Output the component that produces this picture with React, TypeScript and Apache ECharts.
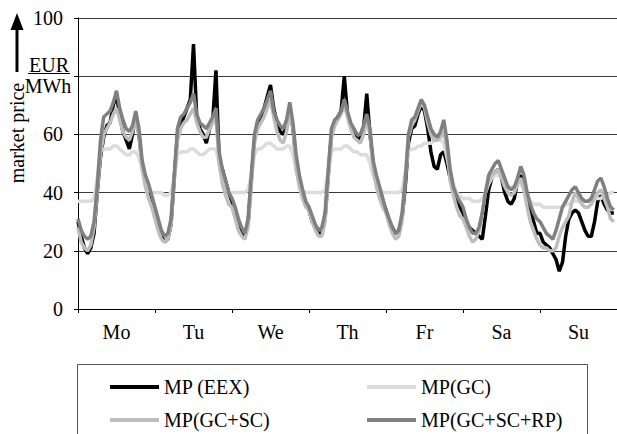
import React, { useEffect, useRef } from "react";
import * as echarts from "echarts";

const days = ["Mo", "Tu", "We", "Th", "Fr", "Sa", "Su"];
const yTicks = [0, 20, 40, 60, 80, 100];
const yLabelHidden = [80]; // replaced by the unit fraction EUR/MWh

// hourly market prices (EUR/MWh), 7 days x 24 h
const mpEex = [
  30, 25, 21, 19, 21, 26, 40, 52, 59, 63, 64, 70, 74, 66, 61, 58, 55, 60, 67, 60, 49, 44, 42, 38,
  34, 28, 25, 23, 24, 29, 45, 60, 63, 66, 69, 72, 91, 66, 62, 60, 57, 62, 65, 82, 51, 48, 44, 40,
  37, 33, 29, 26, 25, 29, 44, 58, 64, 66, 69, 73, 77, 69, 64, 61, 60, 63, 69, 62, 50, 44, 40, 36,
  34, 30, 28, 26, 26, 31, 46, 60, 64, 66, 68, 80, 67, 63, 61, 58, 59, 62, 74, 60, 50, 44, 41, 37,
  34, 30, 28, 26, 27, 31, 42, 57, 62, 63, 67, 70, 68, 62, 54, 49, 48, 53, 54, 50, 45, 42, 38, 35,
  33, 30, 28, 27, 26, 25, 24, 32, 41, 45, 47, 48, 45, 40, 37, 36, 38, 44, 46, 42, 37, 34, 30, 26,
  26, 23, 22, 21, 19, 17, 13, 16, 25, 31, 33, 34, 33, 30, 27, 25, 25, 30, 37, 39, 36, 34, 33, 33,
];
const mpGc = [
  37, 37, 37, 37, 37, 38, 45, 54, 55, 55, 55, 56, 56, 55, 54, 53, 53, 54, 54, 52, 48, 44, 41, 40,
  40, 40, 40, 39, 39, 40, 45, 53, 54, 54, 54, 55, 55, 54, 53, 53, 54, 55, 55, 55, 50, 45, 42, 40,
  40, 40, 40, 40, 40, 41, 46, 53, 55, 55, 56, 57, 57, 56, 55, 55, 55, 56, 56, 53, 48, 44, 41, 40,
  40, 40, 40, 40, 40, 41, 47, 54, 55, 55, 55, 56, 56, 55, 54, 54, 53, 53, 53, 50, 46, 43, 41, 40,
  40, 40, 40, 40, 40, 41, 47, 54, 55, 55, 56, 56, 57, 57, 57, 58, 58, 58, 57, 52, 47, 43, 40, 39,
  38, 38, 38, 37, 37, 37, 38, 40, 43, 45, 46, 46, 45, 44, 42, 42, 42, 43, 43, 41, 39, 37, 36, 36,
  36, 35, 35, 35, 35, 35, 35, 35, 36, 36, 37, 37, 37, 37, 37, 37, 37, 38, 38, 38, 39, 39, 40, 40,
];
const mpGcSc = [
  28, 23, 21, 20, 22, 28, 40, 53, 60, 62, 64, 67, 69, 65, 61, 59, 58, 61, 65, 60, 48, 42, 38, 35,
  31, 27, 24, 23, 24, 29, 44, 58, 62, 64, 65, 67, 69, 64, 61, 59, 59, 62, 64, 66, 50, 43, 39, 36,
  35, 31, 27, 25, 24, 28, 42, 57, 62, 64, 66, 69, 72, 66, 61, 58, 57, 61, 68, 62, 48, 42, 38, 35,
  34, 30, 27, 25, 25, 30, 45, 59, 63, 65, 67, 70, 66, 62, 59, 58, 57, 60, 65, 60, 48, 42, 38, 35,
  33, 29, 26, 24, 25, 30, 44, 59, 63, 65, 68, 71, 69, 64, 60, 58, 58, 59, 61, 55, 44, 39, 35, 32,
  31, 28, 25, 23, 24, 27, 33, 40, 44, 46, 47, 48, 45, 42, 40, 39, 40, 43, 45, 41, 35, 30, 27, 24,
  22, 21, 21, 20, 20, 21, 25, 28, 30, 32, 37, 40, 38, 36, 35, 35, 36, 38, 40, 41, 38, 35, 31, 30,
];
const mpGcScRp = [
  31, 27, 25, 24, 25, 30, 42, 58, 66, 67, 68, 71, 75, 69, 65, 62, 61, 63, 68, 62, 51, 46, 43, 39,
  35, 31, 27, 25, 26, 31, 46, 62, 66, 67, 69, 71, 74, 67, 64, 63, 62, 64, 66, 69, 54, 48, 44, 40,
  38, 35, 31, 28, 26, 31, 46, 60, 65, 67, 69, 72, 75, 68, 65, 63, 62, 65, 71, 64, 53, 46, 41, 37,
  35, 32, 29, 27, 28, 33, 48, 62, 65, 66, 68, 72, 68, 64, 62, 60, 60, 63, 67, 62, 51, 46, 42, 38,
  34, 31, 28, 26, 27, 33, 44, 60, 65, 66, 69, 72, 70, 66, 62, 60, 59, 61, 65, 58, 48, 42, 39, 37,
  35, 31, 28, 26, 26, 28, 33, 40, 46, 48, 50, 51, 48, 45, 42, 41, 42, 45, 49, 46, 40, 36, 33, 31,
  30, 28, 26, 25, 24, 27, 31, 35, 37, 39, 41, 42, 40, 38, 37, 37, 38, 41, 44, 45, 42, 38, 35, 34,
];

const seriesNames = ["MP (EEX)", "MP(GC)", "MP(GC+SC)", "MP(GC+SC+RP)"];
const seriesColors = ["#000000", "#dcdcdc", "#bdbdbd", "#808080"];
const seriesValues = [mpEex, mpGc, mpGcSc, mpGcScRp];

const FONT = "Liberation Serif";

export default function App() {
  const ref = useRef<HTMLDivElement>(null);
  useEffect(() => {
    if (!ref.current) return;
    const chart = echarts.init(ref.current, null, { renderer: "svg" });
    const hours = days.length * 24;
    const legendPos = [
      { left: 110, top: 377 },
      { left: 367, top: 377 },
      { left: 110, top: 410 },
      { left: 367, top: 410 },
    ];
    const txt = (text: string, x: number, y: number, rotation = 0) => ({
      type: "text",
      x,
      y,
      rotation,
      style: {
        text,
        fontSize: 20,
        fontFamily: FONT,
        fill: "#000",
        align: "center",
        verticalAlign: "middle",
      },
    });
    chart.setOption({
      animation: false,
      backgroundColor: "#ffffff",
      textStyle: { fontFamily: FONT },
      grid: { left: 78, top: 18, width: 544, height: 291, containLabel: false },
      xAxis: [
        {
          type: "value",
          min: 0,
          max: hours,
          interval: 24,
          position: "bottom",
          axisLine: { show: true, lineStyle: { color: "#000", width: 1 } },
          axisTick: { show: true, length: 4, lineStyle: { color: "#000" } },
          axisLabel: { show: false },
          splitLine: { show: false },
        },
        {
          type: "category",
          data: days,
          position: "bottom",
          boundaryGap: true,
          axisLine: { show: false },
          axisTick: { show: false },
          axisLabel: { color: "#000", fontSize: 20, fontFamily: FONT, margin: 13 },
          splitLine: { show: false },
        },
      ],
      yAxis: {
        type: "value",
        min: yTicks[0],
        max: yTicks[yTicks.length - 1],
        interval: 20,
        axisLine: { show: true, lineStyle: { color: "#000", width: 1 } },
        axisTick: { show: true, length: 4, lineStyle: { color: "#000" } },
        axisLabel: {
          color: "#000",
          fontSize: 20,
          fontFamily: FONT,
          margin: 15,
          formatter: (v: number) => (yLabelHidden.includes(v) ? "" : String(v)),
        },
        splitLine: { show: true, lineStyle: { color: "#3a3a3a", width: 1 } },
      },
      legend: seriesNames.map((n, i) => ({
        data: [n],
        left: legendPos[i].left,
        top: legendPos[i].top,
        padding: 0,
        icon: "rect",
        itemWidth: 49,
        itemHeight: 4,
        selectedMode: false,
        textStyle: { color: "#000", fontSize: 20, fontFamily: FONT },
      })),
      series: seriesNames.map((n, i) => ({
        name: n,
        type: "line",
        xAxisIndex: 0,
        yAxisIndex: 0,
        showSymbol: false,
        symbol: "none",
        color: seriesColors[i],
        itemStyle: { color: seriesColors[i] },
        lineStyle: { color: seriesColors[i], width: 3.5 },
        z: 2 + i,
        data: seriesValues[i].map((v, h) => [h, v]),
      })),
      graphic: [
        txt("market price", 16.5, 133, Math.PI / 2),
        {
          type: "line",
          shape: { x1: 17, y1: 28, x2: 17, y2: 72 },
          style: { stroke: "#000", lineWidth: 3 },
        },
        {
          type: "polygon",
          shape: { points: [[17, 13], [10.5, 30], [23.5, 30]] },
          style: { fill: "#000" },
        },
        txt("EUR", 49, 65),
        {
          type: "line",
          shape: { x1: 28, y1: 73.5, x2: 70, y2: 73.5 },
          style: { stroke: "#000", lineWidth: 1 },
        },
        txt("MWh", 48, 86),
        {
          type: "rect",
          shape: { x: 77.5, y: 364.5, width: 510, height: 100 },
          style: { fill: "none", stroke: "#555", lineWidth: 1 },
        },
      ],
    });
    return () => chart.dispose();
  }, []);
  return (
    <div
      ref={ref}
      style={{ position: "absolute", left: 0, top: 0, width: 617, height: 434 }}
    />
  );
}
